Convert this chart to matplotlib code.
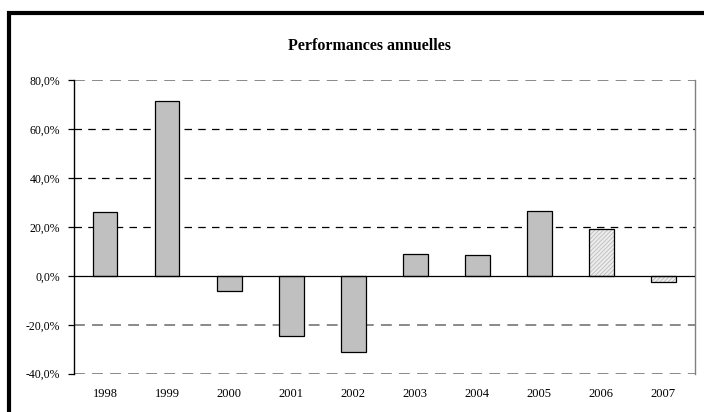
import matplotlib
matplotlib.use("Agg")
import matplotlib.pyplot as plt
from matplotlib.patches import Rectangle
from matplotlib.ticker import FuncFormatter

plt.rcParams['font.family'] = ['Liberation Serif', 'DejaVu Serif']
plt.rcParams['hatch.linewidth'] = 0.5

years = ['1998', '1999', '2000', '2001', '2002', '2003', '2004', '2005', '2006', '2007']
perf = [26.2, 71.5, -6.3, -24.5, -31.2, 9.1, 8.3, 26.6, 19.1, -2.6]
# the last two years are drawn hatched
hatched = [False, False, False, False, False, False, False, False, True, True]

fig = plt.figure(figsize=(7.04, 4.12), dpi=100)
ax = fig.add_axes([74 / 704, 1 - 373.7 / 412, 620.5 / 704, 293.7 / 412])

x = list(range(len(years)))
plain_x = [i for i in x if not hatched[i]]
plain_v = [perf[i] for i in x if not hatched[i]]
hatch_x = [i for i in x if hatched[i]]
hatch_v = [perf[i] for i in x if hatched[i]]

ax.bar(plain_x, plain_v, width=0.4, color='#c0c0c0', edgecolor='black', linewidth=0.9, zorder=3)
# hatched bars: light hatch first, then a black outline on top
ax.bar(hatch_x, hatch_v, width=0.4, color='#ececec', edgecolor='#b4b4b4', hatch='////////',
       linewidth=0, zorder=3)
ax.bar(hatch_x, hatch_v, width=0.4, fill=False, edgecolor='black', linewidth=0.9, zorder=3.5)

ax.set_xlim(-0.5, len(years) - 0.5)
ax.set_ylim(-40, 80)
ax.set_yticks([-40, -20, 0, 20, 40, 60, 80])
ax.yaxis.set_major_formatter(FuncFormatter(lambda v, p: f"{v:.1f}%".replace('.', ',')))
ax.set_xticks(x)
ax.set_xticklabels(years)

# gridlines
for v in [20, 40, 60]:
    ax.axhline(v, color='black', linestyle=(0, (6, 5)), linewidth=0.9, zorder=1)
for v in [-20, -40, 80]:
    ax.axhline(v, color='#808080', linestyle=(0, (6, 4)), linewidth=1.3, zorder=1)
ax.axhline(0, color='black', linewidth=0.9, zorder=4)

for s in ['top', 'bottom']:
    ax.spines[s].set_visible(False)
ax.spines['right'].set_color('#808080')
ax.spines['right'].set_linewidth(1.0)
ax.spines['left'].set_color('black')
ax.spines['left'].set_linewidth(1.0)

ax.tick_params(axis='y', direction='out', length=4, width=0.9, labelsize=8.5, pad=6)
ax.tick_params(axis='x', length=0, labelsize=9, pad=10)

fig.text(369 / 704, 1 - 46 / 412, 'Performances annuelles', ha='center', va='center',
         fontsize=11.5, fontweight='bold')

# outer frame (only top and left visible in the crop)
fig.patches.append(Rectangle((9 / 704, -0.1), 1.2, 1 - 13 / 412 + 0.1, transform=fig.transFigure,
                             fill=False, edgecolor='black', linewidth=3, figure=fig))

fig.savefig('out.png', dpi=100)
